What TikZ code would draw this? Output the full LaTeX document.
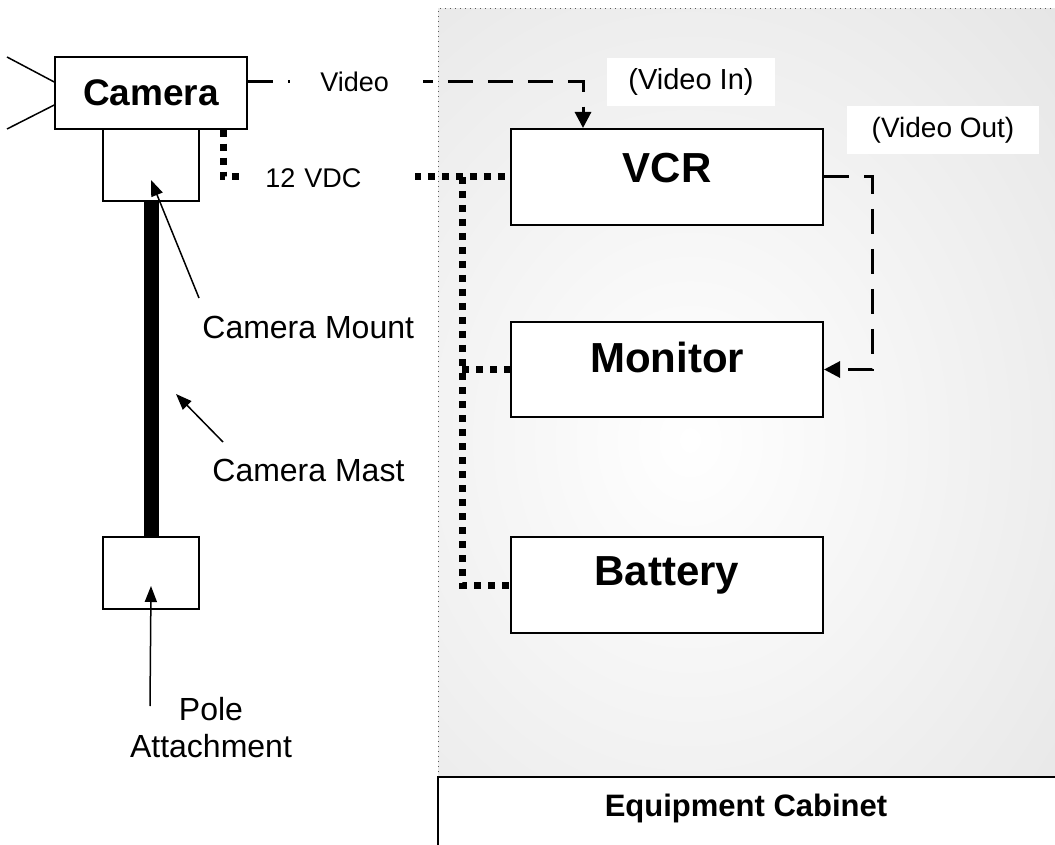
\documentclass[tikz,border=0pt]{standalone}
\usepackage{fontspec}
\setmainfont{Liberation Sans}
\usetikzlibrary{arrows.meta}

\begin{document}
\begin{tikzpicture}[x=0.5pt,y=-0.5pt,
        unit/.style={
        rectangle, draw=black, line width=1pt,
        inner sep=0pt, minimum width=156pt, minimum height=48pt,
        fill=white},
        unitlbl/.style={font=\fontsize{21}{25}\selectfont\bfseries, inner sep=0pt},
        part/.style={
        rectangle, draw=black, line width=0.75pt,
        inner sep=0pt, minimum width=48pt, minimum height=36pt,
        fill=white},
        tag/.style={fill=white, inner sep=0pt, font=\fontsize{13.5}{16}\selectfont},
        note/.style={font=\fontsize{16}{18.5}\selectfont, inner sep=0pt},
        callout/.style={line width=0.75pt, -{Triangle[length=8pt,width=6pt]}},
        video/.style={line width=1.5pt, dash pattern=on 12.5pt off 7.5pt, -{Triangle[length=8pt,width=8pt]}},
        power/.style={line width=3.5pt, dash pattern=on 3.5pt off 3.5pt},
        ]

        \useasboundingbox (0,0) rectangle (1055,845);

        % cabinet
        \fill[gray!25] (438,9) rectangle (1055,777);
        \begin{scope}
        \clip (438,9) rectangle (1055,777);
        \shade[inner color=white, outer color=gray!25] (690,440) ellipse (660 and 780);
        \end{scope}
        \draw[gray!70!black, line width=0.5pt, dotted] (438,777) -- (438,9) -- (1055,9);
        \draw[line width=1pt] (1055,777) -- (438,777) -- (438,845);
        \node (cablbl) [font=\fontsize{15.5}{18}\selectfont\bfseries] at (746,808) {Equipment Cabinet};

        % camera side
        \node (cam) [part, minimum width=96pt, font=\fontsize{18.5}{22}\selectfont\bfseries] at (151,93) {Camera};
        \node (mount) [part] at (151,165) {};
        \node (pole) [part] at (151,573) {};
        \draw[line width=7.5pt] (mount.south) -- (pole.north);

        \coordinate (lensa) at (7,57);
        \coordinate (lensb) at (7,129);
        \draw[line width=0.75pt] ([yshift=5.5pt]cam.west) -- (lensa) ([yshift=-6pt]cam.west) -- (lensb);

        % equipment
        \node (vcr) [unit] at (667,177) {};
        \node (mon) [unit, minimum height=47.5pt] at (667,369.5) {};
        \node (bat) [unit] at (667,585) {};
        \node (vcrlbl) [unitlbl] at ([yshift=4.5pt]vcr.center) {VCR};
        \node (monlbl) [unitlbl] at ([yshift=6pt]mon.center) {Monitor};
        \node (batlbl) [unitlbl] at ([yshift=5pt]bat.center) {Battery};

        % 12 V supply
        \coordinate (pwr) at ([xshift=36pt]cam.south);
        \coordinate (tap) at ([xshift=-24pt]vcr.west);
        \draw[power] (pwr) |- (vcr.west);
        \draw[power] (tap) |- (bat.west);
        \draw[power] (tap |- mon.west) -- (mon.west);
        \node (vdc) [tag, anchor=west, text width=65pt, inner xsep=10pt, inner ysep=3pt, align=left] at (245,178) {12 VDC};

        % video
        \coordinate (vout) at ([yshift=5.5pt]cam.east);
        \coordinate (vin) at ([xshift=-42pt]vcr.north);
        \draw[video] (vout) -| (vin);
        \node (vidlbl) [tag, anchor=west, text width=36.5pt, inner xsep=15pt, inner ysep=4pt, align=left] at (290,82) {Video};
        \draw[video] (vcr.east) -- ++(24pt,0) |- (mon.east);
        \node (vinlbl) [tag, font=\fontsize{14.5}{17}\selectfont, minimum width=84pt, minimum height=24pt] at (691,82) {(Video In)};
        \node (voutlbl) [tag, font=\fontsize{14}{16}\selectfont, minimum width=96pt, minimum height=24pt] at (943,130) {(Video Out)};

        % callouts
        \node (mountnote) [note, anchor=west] at (202,327) {Camera Mount};
        \node (mastnote) [note, anchor=west] at (212,470) {Camera Mast};
        \node (polenote) [note, align=center] at (211,728) {Pole\\Attachment};
        \coordinate (mounttail) at (199,298);
        \coordinate (masttail) at (223,442);
        \coordinate (masttip) at (176,394);
        \coordinate (poletail) at (150,706);
        \draw[callout] (mounttail) -- ([yshift=-7.5pt]mount.center);
        \draw[callout] (masttail) -- (masttip);
        \draw[callout] (poletail) -- ([yshift=-6.5pt]pole.center);
    \end{tikzpicture}
\end{document}
